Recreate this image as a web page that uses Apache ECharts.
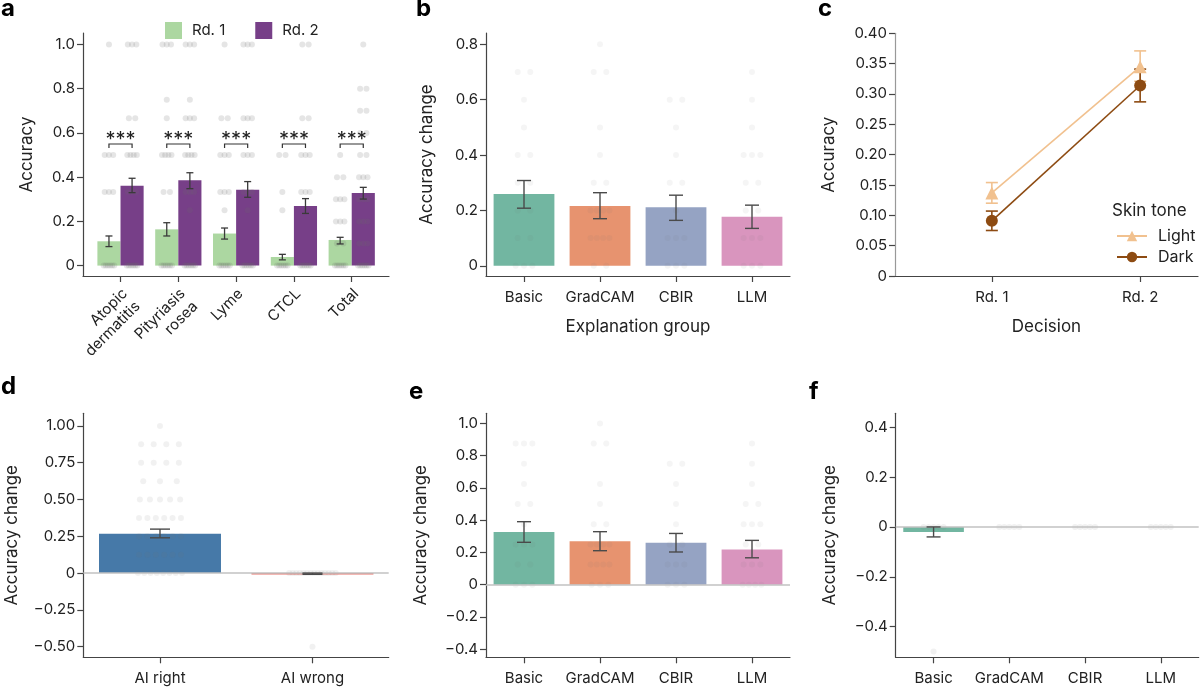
<!DOCTYPE html>
<html>
<head>
<meta charset="utf-8">
<script src="https://cdn.jsdelivr.net/npm/echarts@6/dist/echarts.min.js"></script>
<style>
  html, body { margin: 0; padding: 0; background: #fff; }
  #chart { width: 1200px; height: 690px; }
</style>
</head>
<body>
<div id="chart"></div>
<script>
  'use strict'
  /*----- data -----*/
  // panel a: accuracy by disease, round 1 vs round 2
  var diseaseNames = ['Atopic\ndermatitis', 'Pityriasis\nrosea', 'Lyme', 'CTCL', 'Total'];
  var rd1Acc  = [0.110, 0.164, 0.145, 0.039, 0.116];
  var rd1Low  = [0.086, 0.134, 0.120, 0.026, 0.098];
  var rd1High = [0.134, 0.194, 0.170, 0.051, 0.128];
  var rd2Acc  = [0.361, 0.386, 0.343, 0.270, 0.328];
  var rd2Low  = [0.330, 0.348, 0.309, 0.236, 0.301];
  var rd2High = [0.395, 0.420, 0.380, 0.303, 0.354];
  var sigMarks = ['***', '***', '***', '***', '***'];
  var sigLevel = [0.55, 0.55, 0.55, 0.55, 0.55];
  var rd1Dots = [
    [1, 0.5, 0.5, 0.5, 0.333, 0.333, 0.333, 0, 0, 0, 0, 0, 0],
    [1, 1, 1, 0.75, 0.667, 0.5, 0.5, 0.5, 0.5, 0.333, 0.333, 0, 0, 0, 0, 0, 0],
    [1, 0.667, 0.667, 0.5, 0.5, 0.5, 0.333, 0.333, 0.333, 0.25, 0, 0, 0, 0, 0, 0],
    [0.5, 0.5, 0.333, 0.25, 0, 0, 0, 0, 0, 0],
    [0.5, 0.4, 0.4, 0.3, 0.3, 0.3, 0.2, 0.2, 0.2, 0.1, 0.1, 0, 0, 0, 0, 0, 0]
  ];
  var rd2Dots = [
    [1, 1, 1, 0.667, 0.667, 0.5, 0.5, 0.5, 0.5, 0.333, 0.333, 0.333, 0, 0, 0, 0, 0, 0],
    [1, 1, 1, 0.75, 0.667, 0.667, 0.667, 0.5, 0.5, 0.5, 0.5, 0.333, 0.333, 0.333, 0.25, 0, 0, 0, 0, 0, 0],
    [1, 1, 1, 0.667, 0.667, 0.667, 0.5, 0.5, 0.5, 0.333, 0.333, 0.333, 0.25, 0, 0, 0, 0, 0, 0],
    [1, 1, 0.667, 0.667, 0.5, 0.5, 0.5, 0.333, 0.333, 0.333, 0, 0, 0, 0, 0, 0],
    [1, 0.8, 0.8, 0.7, 0.7, 0.6, 0.6, 0.5, 0.5, 0.4, 0.4, 0.4, 0.3, 0.3, 0.3, 0.2, 0.2, 0.2, 0.1, 0.1, 0.1, 0, 0, 0, 0, 0, 0]
  ];
  var ticksA = [0, 0.2, 0.4, 0.6, 0.8, 1.0];

  // panel b: accuracy change by explanation group
  var groupNames = ['Basic', 'GradCAM', 'CBIR', 'LLM'];
  var changeB     = [0.259, 0.216, 0.211, 0.177];
  var changeBLow  = [0.208, 0.170, 0.164, 0.135];
  var changeBHigh = [0.308, 0.264, 0.255, 0.219];
  var dotsB = [
    [0.7, 0.7, 0.6, 0.5, 0.4, 0.4, 0.3, 0.3, 0.2, 0.2, 0.1, 0.1, 0, 0, 0],
    [0.8, 0.7, 0.7, 0.5, 0.4, 0.3, 0.3, 0.2, 0.2, 0.2, 0.2, 0.1, 0.1, 0.1, 0.1, 0, 0],
    [0.6, 0.6, 0.5, 0.4, 0.3, 0.3, 0.2, 0.1, 0.1, 0.1, 0, 0, 0],
    [0.7, 0.6, 0.5, 0.4, 0.4, 0.4, 0.3, 0.3, 0.2, 0.2, 0.1, 0.1, 0.1, 0, 0, 0]
  ];
  var ticksB = [0, 0.2, 0.4, 0.6, 0.8];

  // panel c: accuracy by skin tone
  var decisions = ['Rd. 1', 'Rd. 2'];
  var lightAcc  = [0.137, 0.345];
  var lightLow  = [0.120, 0.321];
  var lightHigh = [0.154, 0.371];
  var darkAcc   = [0.091, 0.314];
  var darkLow   = [0.075, 0.287];
  var darkHigh  = [0.107, 0.341];
  var ticksC = [0, 0.05, 0.10, 0.15, 0.20, 0.25, 0.30, 0.35, 0.40];

  // panel d: accuracy change when AI right / wrong
  var aiNames = ['AI right', 'AI wrong'];
  var changeD     = [0.267, -0.004];
  var changeDLow  = [0.240, -0.008];
  var changeDHigh = [0.299, 0.000];
  var dotsD = [
    [1, 0.875, 0.875, 0.875, 0.875, 0.75, 0.75, 0.75, 0.75, 0.625, 0.625, 0.625,
     0.5, 0.5, 0.5, 0.5, 0.5, 0.375, 0.375, 0.375, 0.375, 0.375, 0.375,
     0.25, 0.25, 0.25, 0.25, 0.25, 0.25, 0.125, 0.125, 0.125, 0.125, 0.125, 0.125,
     0, 0, 0, 0, 0, 0, 0, 0],
    [0, 0, 0, 0, 0, 0, 0, 0, 0, 0, 0, 0, 0, 0, -0.5]
  ];
  var ticksD = [-0.5, -0.25, 0, 0.25, 0.5, 0.75, 1.0];

  // panel e: accuracy change by group (AI right)
  var changeE     = [0.327, 0.269, 0.261, 0.219];
  var changeELow  = [0.263, 0.211, 0.203, 0.167];
  var changeEHigh = [0.391, 0.329, 0.318, 0.275];
  var dotsE = [
    [0.875, 0.875, 0.875, 0.75, 0.625, 0.5, 0.5, 0.375, 0.25, 0.25, 0.25, 0.125, 0.125, 0, 0, 0],
    [1, 0.875, 0.875, 0.625, 0.5, 0.375, 0.375, 0.25, 0.25, 0.25, 0.25, 0.125, 0.125, 0.125, 0.125, 0, 0, 0],
    [0.75, 0.75, 0.625, 0.5, 0.375, 0.25, 0.25, 0.125, 0.125, 0.125, 0, 0, 0],
    [0.875, 0.75, 0.625, 0.5, 0.5, 0.375, 0.375, 0.375, 0.25, 0.25, 0.125, 0.125, 0.125, 0, 0, 0, 0]
  ];
  var ticksE = [-0.4, -0.2, 0, 0.2, 0.4, 0.6, 0.8, 1.0];

  // panel f: accuracy change by group (AI wrong)
  var changeF     = [-0.020, 0, 0, 0];
  var changeFLow  = [-0.040, 0, 0, 0];
  var changeFHigh = [0.000, 0, 0, 0];
  var dotsF = [
    [0, 0, 0, 0, 0, -0.5],
    [0, 0, 0, 0, 0],
    [0, 0, 0, 0, 0],
    [0, 0, 0, 0, 0]
  ];
  var ticksF = [-0.4, -0.2, 0, 0.2, 0.4];

  /*----- style -----*/
  var FONT = 'Inter';
  var AXIS = '#444';
  var groupColors = ['#72b6a1', '#e7936f', '#95a3c3', '#d995be'];
  var rd1Color = '#acd7a1';
  var rd2Color = '#773f88';
  var lightColor = '#f1c18f';
  var darkColor = '#8d4b12';

  function fmt(dec) {
    return function (v) {
      if (Math.abs(v) < 1e-9) return '0';
      return (v < 0 ? '\u2212' : '') + Math.abs(v).toFixed(dec);
    };
  }

  function xAxisFor(gi, min, max, names, fontSize) {
    var ticks = names.map(function (n, i) { return i; });
    return {
      type: 'value', gridIndex: gi, min: min, max: max,
      axisLine: { show: true, onZero: false, lineStyle: { color: AXIS, width: 1.2 } },
      axisTick: { show: true, length: 6, customValues: ticks, lineStyle: { color: AXIS, width: 1.2 } },
      axisLabel: {
        customValues: ticks, fontSize: fontSize, color: '#222', margin: 14, fontFamily: FONT,
        formatter: function (v) { return names[Math.round(v)]; }
      },
      splitLine: { show: false }
    };
  }

  function yAxisFor(gi, min, max, ticks, dec, name, gap) {
    return {
      type: 'value', gridIndex: gi, min: min, max: max,
      name: name, nameLocation: 'middle', nameGap: gap,
      nameTextStyle: { fontSize: 17, color: '#222', fontFamily: FONT },
      axisLine: { show: true, onZero: false, lineStyle: { color: AXIS, width: 1.2 } },
      axisTick: { show: true, length: 6, customValues: ticks, lineStyle: { color: AXIS, width: 1.2 } },
      axisLabel: { customValues: ticks, formatter: fmt(dec), fontSize: 15, color: '#222', margin: 8, fontFamily: FONT },
      splitLine: { show: false }
    };
  }

  // bars drawn through the axis scales
  function barSeries(gi, name, vals, colors, offset, width, extra) {
    var s = {
      type: 'custom', name: name, xAxisIndex: gi, yAxisIndex: gi, z: 2,
      itemStyle: { color: Array.isArray(colors) ? colors[0] : colors },
      data: vals.map(function (v, i) {
        return { value: [i + offset, v], itemStyle: { color: Array.isArray(colors) ? colors[i] : colors } };
      }),
      renderItem: function (params, api) {
        var x = api.value(0), v = api.value(1);
        if (v === 0) return null;
        var p0 = api.coord([x, 0]), p1 = api.coord([x, v]);
        var w = api.size([width, 0])[0];
        var h = Math.max(Math.abs(p1[1] - p0[1]), 1.5);
        return {
          type: 'rect',
          shape: { x: p0[0] - w / 2, y: v > 0 ? p1[1] : p0[1], width: w, height: h },
          style: { fill: api.visual('color') }
        };
      }
    };
    return Object.assign(s, extra || {});
  }

  function errSeries(gi, low, high, color, offset, cap, width) {
    return {
      type: 'custom', xAxisIndex: gi, yAxisIndex: gi, z: 5, silent: true,
      itemStyle: { color: color },
      data: low.map(function (l, i) { return [i + offset, l, high[i]]; }),
      renderItem: function (params, api) {
        var x = api.value(0);
        if (api.value(1) === api.value(2)) return null;
        var lo = api.coord([x, api.value(1)]), hi = api.coord([x, api.value(2)]);
        var st = { stroke: api.visual('color'), lineWidth: width || 1.4 };
        return {
          type: 'group', children: [
            { type: 'line', shape: { x1: lo[0], y1: lo[1], x2: hi[0], y2: hi[1] }, style: st },
            { type: 'line', shape: { x1: lo[0] - cap, y1: lo[1], x2: lo[0] + cap, y2: lo[1] }, style: st },
            { type: 'line', shape: { x1: hi[0] - cap, y1: hi[1], x2: hi[0] + cap, y2: hi[1] }, style: st }
          ]
        };
      }
    };
  }

  // strip of individual points, spread sideways within a band
  function stripSeries(gi, groups, offset, span, alpha) {
    var pts = [];
    groups.forEach(function (vals, gIdx) {
      var counts = {}, seen = {};
      vals.forEach(function (v) { counts[v] = (counts[v] || 0) + 1; });
      vals.forEach(function (v) {
        var k = seen[v] || 0;
        seen[v] = k + 1;
        pts.push([gIdx + offset + ((k + 0.5) / counts[v] - 0.5) * span, v]);
      });
    });
    return {
      type: 'scatter', xAxisIndex: gi, yAxisIndex: gi, z: 3, silent: true,
      symbolSize: 6, itemStyle: { color: 'rgba(110,110,110,' + alpha + ')' },
      data: pts
    };
  }

  var zeroLine = {
    silent: true, symbol: 'none', label: { show: false },
    lineStyle: { color: '#c2c2c2', width: 1.5, type: 'solid' },
    data: [{ yAxis: 0 }]
  };

  var grids = [
    { left: 83, top: 33, width: 306, height: 243 },
    { left: 486, top: 33, width: 304, height: 243 },
    { left: 895, top: 33.3, width: 303, height: 242.7 },
    { left: 83.3, top: 413.3, width: 305.4, height: 244 },
    { left: 486, top: 413.3, width: 304, height: 244 },
    { left: 895.7, top: 413.3, width: 303, height: 244 }
  ];

  var xAxes = [
    xAxisFor(0, -0.649, 4.645, diseaseNames, 15),
    xAxisFor(1, -0.5, 3.5, groupNames, 15),
    xAxisFor(2, -0.653, 1.39, decisions, 15),
    xAxisFor(3, -0.503, 1.5, aiNames, 15),
    xAxisFor(4, -0.5, 3.5, groupNames, 15),
    xAxisFor(5, -0.5, 3.5, groupNames, 15)
  ];
  // panel a tick labels are drawn rotated by their own series below
  xAxes[0].axisLabel.show = false;
  xAxes[1].name = 'Explanation group';
  xAxes[2].name = 'Decision';
  [1, 2].forEach(function (i) {
    xAxes[i].nameLocation = 'middle';
    xAxes[i].nameGap = 42;
    xAxes[i].nameTextStyle = { fontSize: 17, color: '#222', fontFamily: FONT };
  });

  var yAxes = [
    yAxisFor(0, -0.047, 1.052, ticksA, 1, 'Accuracy', 48),
    yAxisFor(1, -0.037, 0.841, ticksB, 1, 'Accuracy change', 51),
    yAxisFor(2, 0, 0.40, ticksC, 2, 'Accuracy', 58),
    yAxisFor(3, -0.572, 1.086, ticksD, 2, 'Accuracy change', 63),
    yAxisFor(4, -0.45, 1.063, ticksE, 1, 'Accuracy change', 57),
    yAxisFor(5, -0.523, 0.456, ticksF, 1, 'Accuracy change', 57)
  ];
  yAxes[2].axisLine.lineStyle.color = '#999';

  var series = [];
  // a
  series.push(barSeries(0, 'Rd. 1', rd1Acc, rd1Color, -0.2, 0.4));
  series.push(barSeries(0, 'Rd. 2', rd2Acc, rd2Color, 0.2, 0.4));
  series.push(stripSeries(0, rd1Dots, -0.2, 0.22, 0.22));
  series.push(stripSeries(0, rd2Dots, 0.2, 0.22, 0.22));
  series.push(errSeries(0, rd1Low, rd1High, '#3a3a3a', -0.2, 3.5, 1.3));
  series.push(errSeries(0, rd2Low, rd2High, '#3a3a3a', 0.2, 3.5, 1.3));
  series.push({
    type: 'custom', xAxisIndex: 0, yAxisIndex: 0, z: 6, silent: true,
    data: sigLevel.map(function (y, i) { return [i, y]; }),
    renderItem: function (params, api) {
      var x = api.value(0), y = api.value(1);
      var l = api.coord([x - 0.2, y]), r = api.coord([x + 0.2, y]);
      return {
        type: 'group', children: [
          { type: 'polyline', shape: { points: [[l[0], l[1] + 4], [l[0], l[1]], [r[0], r[1]], [r[0], r[1] + 4]] },
            style: { stroke: '#333', lineWidth: 1.2, fill: null } },
          { type: 'text', style: { text: sigMarks[params.dataIndex], x: (l[0] + r[0]) / 2, y: l[1] + 6,
            align: 'center', verticalAlign: 'bottom', font: '20px ' + FONT, fill: '#222' } }
        ]
      };
    }
  });
  // a: rotated category labels, one text per line, stepped down-right
  series.push({
    type: 'custom', xAxisIndex: 0, yAxisIndex: 0, z: 6, silent: true, clip: false,
    data: diseaseNames.map(function (n, i) { return [i, 0]; }),
    renderItem: function (params, api) {
      var px = api.coord([api.value(0), 0])[0];
      var bottom = params.coordSys.y + params.coordSys.height;
      var lines = diseaseNames[params.dataIndex].split('\n');
      var step = 18 * Math.SQRT1_2;
      return {
        type: 'group',
        children: lines.map(function (t, k) {
          return {
            type: 'text', x: px - 1 + k * step, y: bottom + 10 + k * step,
            rotation: Math.PI / 4, originX: 0, originY: 0,
            style: { text: t, align: 'right', verticalAlign: 'top', font: '15px ' + FONT, fill: '#222' }
          };
        })
      };
    }
  });
  // b
  series.push(barSeries(1, 'b', changeB, groupColors, 0, 0.8));
  series.push(stripSeries(1, dotsB, 0, 0.33, 0.09));
  series.push(errSeries(1, changeBLow, changeBHigh, '#4a4a4a', 0, 7, 1.4));
  // c
  series.push(errSeries(2, lightLow, lightHigh, lightColor, 0, 6, 1.6));
  series.push(errSeries(2, darkLow, darkHigh, darkColor, 0, 6, 1.6));
  series.push({
    type: 'line', name: 'Light', xAxisIndex: 2, yAxisIndex: 2, z: 6,
    symbol: 'triangle', symbolSize: 13, color: lightColor,
    lineStyle: { width: 1.6, color: lightColor },
    data: lightAcc.map(function (v, i) { return [i, v]; })
  });
  series.push({
    type: 'line', name: 'Dark', xAxisIndex: 2, yAxisIndex: 2, z: 7,
    symbol: 'circle', symbolSize: 12, color: darkColor,
    lineStyle: { width: 1.6, color: darkColor },
    data: darkAcc.map(function (v, i) { return [i, v]; })
  });
  // d
  series.push(barSeries(3, 'd', changeD, ['#4679a8', '#e8736b'], 0, 0.8, { markLine: zeroLine }));
  series.push(stripSeries(3, dotsD, 0, 0.33, 0.12));
  series.push(errSeries(3, changeDLow, changeDHigh, '#4a4a4a', 0, 10, 1.4));
  // e
  series.push(barSeries(4, 'e', changeE, groupColors, 0, 0.8, { markLine: zeroLine }));
  series.push(stripSeries(4, dotsE, 0, 0.33, 0.09));
  series.push(errSeries(4, changeELow, changeEHigh, '#4a4a4a', 0, 7, 1.4));
  // f
  series.push(barSeries(5, 'f', changeF, groupColors, 0, 0.8, { markLine: zeroLine }));
  series.push(stripSeries(5, dotsF, 0, 0.33, 0.12));
  series.push(errSeries(5, changeFLow, changeFHigh, '#4a4a4a', 0, 7, 1.4));

  function letter(t, x, y) {
    return { type: 'text', left: x, top: y, style: { text: t, font: 'bold 24px ' + FONT, fill: '#000' } };
  }

  var option = {
    animation: false,
    textStyle: { fontFamily: FONT },
    grid: grids,
    xAxis: xAxes,
    yAxis: yAxes,
    legend: [
      {
        data: ['Rd. 1', 'Rd. 2'], left: 160, top: 17, icon: 'rect',
        itemWidth: 17, itemHeight: 17, itemGap: 30,
        textStyle: { fontSize: 15, color: '#222', padding: [0, 0, 0, 5] }
      },
      {
        data: ['Light', 'Dark'], orient: 'vertical', left: 1111, top: 223,
        itemWidth: 30, itemHeight: 13, itemGap: 5,
        textStyle: { fontSize: 16, color: '#222', padding: [0, 0, 0, 6] }
      }
    ],
    graphic: [
      letter('a', 1, -3),
      letter('b', 416, -3),
      letter('c', 818, -3),
      letter('d', 1, 375),
      letter('e', 409, 380),
      letter('f', 809, 380),
      { type: 'text', left: 1112, top: 202, style: { text: 'Skin tone', font: '17px ' + FONT, fill: '#222' } }
    ],
    series: series
  };

  var chart = echarts.init(document.getElementById('chart'));
  chart.setOption(option);
</script>
</body>
</html>
